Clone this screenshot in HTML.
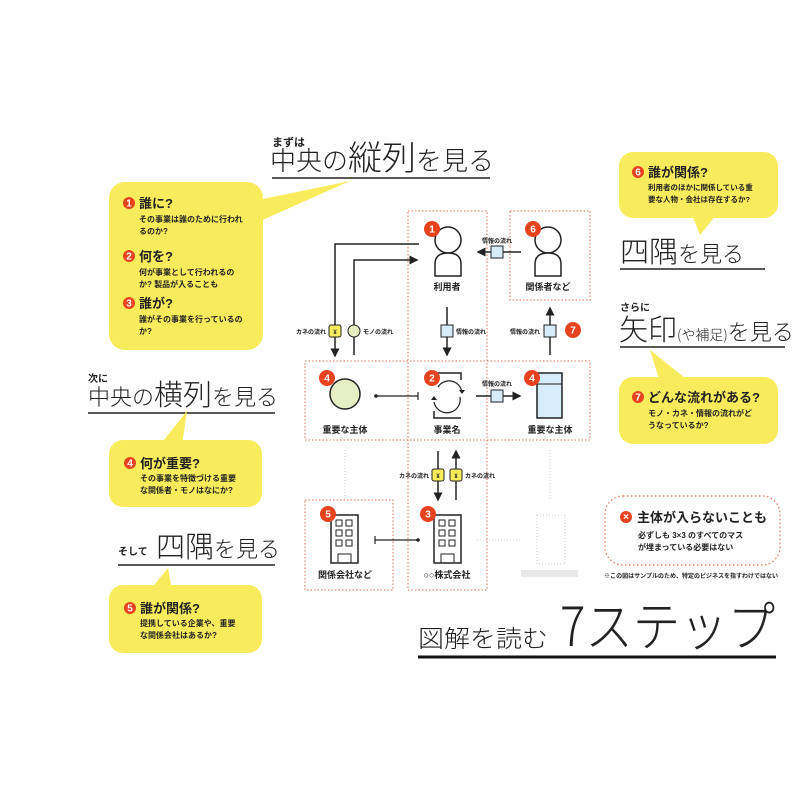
<!DOCTYPE html>
<html><head><meta charset="utf-8"><style>
html,body{margin:0;padding:0;background:#fff;}
svg{display:block;font-family:"Liberation Sans","Noto Sans CJK JP",sans-serif;}
.t{font-weight:bold;fill:#222;}
.thin{font-family:"Noto Sans CJK JP",sans-serif;font-weight:300;fill:#222;}
.dot{fill:none;stroke:#e07050;stroke-width:1;stroke-dasharray:1.5 2;}
.ln{stroke:#222;stroke-width:1.5;fill:none;}
.bn{font-size:10px;fill:#fff;font-weight:bold;text-anchor:middle;}
.lbl{font-size:9px;font-weight:bold;fill:#222;text-anchor:middle;}
.sm{font-size:6px;font-weight:bold;fill:#222;}
</style></head><body>
<svg width="800" height="800" viewBox="0 0 800 800" xmlns="http://www.w3.org/2000/svg">
<defs>
<marker id="ar" markerWidth="6" markerHeight="6" refX="5" refY="3" orient="auto"><path d="M0,0 L6,3 L0,6 z" fill="#222"/></marker>
</defs>
<rect width="800" height="800" fill="#fff"/>

<!-- Title top -->
<text x="272" y="146" class="t" font-size="11">まずは</text>
<text x="270" y="170" class="thin" font-size="26">中央の<tspan font-size="34">縦列</tspan>を見る</text>
<line x1="272" y1="178" x2="490" y2="178" stroke="#222" stroke-width="1.5"/>

<!-- Yellow box 1 -->
<polygon points="258,200 350,181 258,222" fill="#f9ec5c"/>
<rect x="109" y="182" width="154" height="168" rx="16" fill="#f9ec5c"/>
<circle cx="129" cy="203" r="6" fill="#e8431f"/><text x="129" y="206.5" class="bn" font-size="8">1</text>
<text x="139" y="208" class="t" font-size="13">誰に?</text>
<text x="139" y="222" class="t" font-size="8">その事業は誰のために行われ</text>
<text x="139" y="234" class="t" font-size="8">るのか?</text>
<circle cx="129" cy="256" r="6" fill="#e8431f"/><text x="129" y="259.5" class="bn" font-size="8">2</text>
<text x="139" y="261" class="t" font-size="13">何を?</text>
<text x="139" y="275" class="t" font-size="8">何が事業として行われるの</text>
<text x="139" y="287" class="t" font-size="8">か? 製品が入ることも</text>
<circle cx="129" cy="303" r="6" fill="#e8431f"/><text x="129" y="306.5" class="bn" font-size="8">3</text>
<text x="139" y="308" class="t" font-size="13">誰が?</text>
<text x="139" y="322" class="t" font-size="8">誰がその事業を行っているの</text>
<text x="139" y="334" class="t" font-size="8">か?</text>

<!-- Left mid titles -->
<text x="88" y="382" class="t" font-size="10">次に</text>
<text x="88" y="405" class="thin" font-size="22">中央の<tspan font-size="29">横列</tspan>を見る</text>
<line x1="88" y1="413" x2="275" y2="413" stroke="#222" stroke-width="1.5"/>
<polygon points="160,445 187,411 182,445" fill="#f9ec5c"/>
<rect x="109" y="440" width="153" height="67" rx="14" fill="#f9ec5c"/>
<circle cx="130" cy="463" r="6" fill="#e8431f"/><text x="130" y="466.5" class="bn" font-size="8">4</text>
<text x="140" y="468" class="t" font-size="13">何が重要?</text>
<text x="140" y="481" class="t" font-size="8">その事業を特徴づける重要</text>
<text x="140" y="493" class="t" font-size="8">な関係者・モノはなにか?</text>

<text x="118" y="555" class="t" font-size="10">そして</text>
<text x="156" y="557" class="thin" font-size="29">四隅<tspan font-size="22">を見る</tspan></text>
<line x1="118" y1="565" x2="275" y2="565" stroke="#222" stroke-width="1.5"/>
<polygon points="150,590 168,568 172,590" fill="#f9ec5c"/>
<rect x="109" y="585" width="153" height="68" rx="14" fill="#f9ec5c"/>
<circle cx="130" cy="608" r="6" fill="#e8431f"/><text x="130" y="611.5" class="bn" font-size="8">5</text>
<text x="140" y="613" class="t" font-size="13">誰が関係?</text>
<text x="140" y="626" class="t" font-size="8">提携している企業や、重要</text>
<text x="140" y="638" class="t" font-size="8">な関係会社はあるか?</text>

<!-- Right side -->
<polygon points="690,210 700,235 720,210" fill="#f9ec5c"/>
<rect x="619" y="152" width="159" height="66" rx="14" fill="#f9ec5c"/>
<circle cx="638" cy="172" r="6" fill="#e8431f"/><text x="638" y="175.5" class="bn" font-size="8">6</text>
<text x="648" y="177" class="t" font-size="13">誰が関係?</text>
<text x="648" y="190" class="t" font-size="7.5">利用者のほかに関係している重</text>
<text x="648" y="202" class="t" font-size="7.5">要な人物・会社は存在するか?</text>
<text x="620" y="262" class="thin" font-size="29">四隅<tspan font-size="22">を見る</tspan></text>
<line x1="620" y1="269" x2="765" y2="269" stroke="#222" stroke-width="1.5"/>
<text x="620" y="311" class="t" font-size="10">さらに</text>
<text x="619" y="340" class="thin" font-size="29">矢印<tspan font-size="14">(や補足)</tspan><tspan font-size="22">を見る</tspan></text>
<line x1="620" y1="347" x2="785" y2="347" stroke="#222" stroke-width="1.5"/>
<polygon points="650,350 660,382 690,382" fill="#f9ec5c"/>
<rect x="619" y="377" width="159" height="67" rx="14" fill="#f9ec5c"/>
<circle cx="638" cy="397" r="6" fill="#e8431f"/><text x="638" y="400.5" class="bn" font-size="8">7</text>
<text x="648" y="402" class="t" font-size="13">どんな流れがある?</text>
<text x="648" y="416" class="t" font-size="8">モノ・カネ・情報の流れがど</text>
<text x="648" y="428" class="t" font-size="8">うなっているか?</text>

<!-- dotted grid boxes -->
<rect x="408" y="211" width="79" height="379" class="dot"/>
<rect x="510" y="211" width="80" height="89" class="dot"/>
<rect x="305" y="361" width="285" height="79" class="dot"/>
<rect x="305" y="500" width="88" height="90" class="dot"/>

<!-- faint items -->
<line x1="345" y1="450" x2="345" y2="500" stroke="#ccc" stroke-dasharray="1 2"/>
<line x1="550" y1="450" x2="550" y2="500" stroke="#ccc" stroke-dasharray="1 2"/>
<line x1="477" y1="540" x2="520" y2="540" stroke="#ccc" stroke-dasharray="1 2"/>
<rect x="537" y="515" width="28" height="49" fill="none" stroke="#ccc" stroke-dasharray="1 2"/>
<rect x="521" y="570" width="57" height="7" fill="#e8e8e8"/>

<!-- Person 1 -->
<circle cx="448" cy="240" r="13" fill="#fff" stroke="#222" stroke-width="1.5"/>
<path d="M435,276 L435,264 Q435,253 448,253 Q461,253 461,264 L461,276 Z" fill="#fff" stroke="#222" stroke-width="1.5"/>
<circle cx="432" cy="229" r="8" fill="#e8431f"/><text x="432" y="232.5" class="bn">1</text>
<text x="447" y="290" class="lbl">利用者</text>
<!-- Person 6 -->
<circle cx="548" cy="240" r="13" fill="#fff" stroke="#222" stroke-width="1.5"/>
<path d="M535,276 L535,264 Q535,253 548,253 Q561,253 561,264 L561,276 Z" fill="#fff" stroke="#222" stroke-width="1.5"/>
<circle cx="533" cy="229" r="8" fill="#e8431f"/><text x="533" y="232.5" class="bn">6</text>
<text x="548" y="290" class="lbl">関係者など</text>

<!-- arrows from person 1 -->
<polyline points="419,244 335,244 335,356" class="ln" stroke-width="1.2" marker-end="url(#ar)"/>
<polyline points="354,355 354,260 417,260" class="ln" stroke-width="1.2" marker-end="url(#ar)"/>
<rect x="329" y="325" width="12" height="12" rx="2" fill="#f9ec5c" stroke="#222"/><text x="335" y="334" class="sm" text-anchor="middle" font-size="7">¥</text>
<text x="326" y="334" class="sm" text-anchor="end">カネの流れ</text>
<circle cx="354" cy="331" r="6" fill="#e6efc4" stroke="#222"/>
<text x="363" y="334" class="sm">モノの流れ</text>

<line x1="447" y1="307" x2="447" y2="355" class="ln" stroke-width="1.2" marker-end="url(#ar)"/>
<rect x="441" y="325" width="12" height="12" fill="#d6ecf8" stroke="#222"/>
<text x="456" y="334" class="sm">情報の流れ</text>

<line x1="521" y1="252" x2="478" y2="252" class="ln" stroke-width="1.2" marker-end="url(#ar)"/>
<rect x="491" y="246" width="12" height="12" fill="#d6ecf8" stroke="#222"/>
<text x="497" y="243" class="sm" text-anchor="middle">情報の流れ</text>

<line x1="550" y1="355" x2="550" y2="308" class="ln" stroke-width="1.2" marker-end="url(#ar)"/>
<rect x="544" y="325" width="12" height="12" fill="#d6ecf8" stroke="#222"/>
<text x="540" y="334" class="sm" text-anchor="end">情報の流れ</text>
<circle cx="573" cy="330" r="8" fill="#e8431f"/><text x="573" y="333.5" class="bn">7</text>

<!-- middle row -->
<circle cx="345" cy="394" r="15" fill="#e6efc4" stroke="#222" stroke-width="1.5"/>
<circle cx="327" cy="378" r="8" fill="#e8431f"/><text x="327" y="381.5" class="bn">4</text>
<text x="345" y="433" class="lbl">重要な主体</text>
<line x1="375" y1="396" x2="418" y2="396" stroke="#222" stroke-width="1.2"/>
<circle cx="376" cy="396" r="1.8" fill="#222"/><line x1="418" y1="392" x2="418" y2="400" stroke="#222" stroke-width="1.2"/>

<path d="M434,373 L461,373 L461,380" class="ln"/>
<path d="M461,418 L434,418 L434,411" class="ln"/>
<path d="M438,387 A13,13 0 0 1 462,393" fill="none" stroke="#222" stroke-width="1.2"/>
<path d="M460,397 A13,13 0 0 1 434,402" fill="none" stroke="#222" stroke-width="1.2"/>
<path d="M459,390 L462,394 L465,390 z" fill="#222"/>
<path d="M431,400 L434,396 L437,400 z" fill="#222"/>
<circle cx="432" cy="378" r="8" fill="#e8431f"/><text x="432" y="381.5" class="bn">2</text>
<text x="447" y="433" class="lbl">事業名</text>

<line x1="476" y1="396" x2="520" y2="396" class="ln" stroke-width="1.2" marker-end="url(#ar)"/>
<rect x="491" y="390" width="12" height="12" fill="#d6ecf8" stroke="#222"/>
<text x="497" y="386" class="sm" text-anchor="middle">情報の流れ</text>

<rect x="537" y="373" width="25" height="45" fill="#d6ecf8" stroke="#222" stroke-width="1.5"/>
<line x1="537" y1="384" x2="562" y2="384" stroke="#222"/>
<circle cx="532" cy="378" r="8" fill="#e8431f"/><text x="532" y="381.5" class="bn">4</text>
<text x="550" y="433" class="lbl">重要な主体</text>

<!-- money arrows -->
<line x1="438" y1="451" x2="438" y2="500" class="ln" stroke-width="1.2" marker-end="url(#ar)"/>
<line x1="456" y1="500" x2="456" y2="451" class="ln" stroke-width="1.2" marker-end="url(#ar)"/>
<rect x="432" y="469" width="12" height="12" rx="2" fill="#f9ec5c" stroke="#222"/><text x="438" y="478" class="sm" text-anchor="middle" font-size="7">¥</text>
<rect x="450" y="469" width="12" height="12" rx="2" fill="#f9ec5c" stroke="#222"/><text x="456" y="478" class="sm" text-anchor="middle" font-size="7">¥</text>
<text x="429" y="478" class="sm" text-anchor="end">カネの流れ</text>
<text x="465" y="478" class="sm">カネの流れ</text>

<!-- buildings -->
<g>
<rect x="331" y="515" width="27" height="48" fill="#fff" stroke="#222" stroke-width="1.5"/>
<g fill="none" stroke="#222" stroke-width="1"><rect x="336" y="520" width="6" height="6"/><rect x="346" y="520" width="6" height="6"/><rect x="336" y="530" width="6" height="6"/><rect x="346" y="530" width="6" height="6"/><rect x="336" y="540" width="6" height="6"/><rect x="346" y="540" width="6" height="6"/><rect x="338" y="554" width="13" height="9"/></g>
<circle cx="328" cy="514" r="8" fill="#e8431f"/><text x="328" y="517.5" class="bn">5</text>
<text x="345" y="578" class="lbl">関係会社など</text>
</g>
<g>
<rect x="434" y="515" width="27" height="48" fill="#fff" stroke="#222" stroke-width="1.5"/>
<g fill="none" stroke="#222" stroke-width="1"><rect x="439" y="520" width="6" height="6"/><rect x="449" y="520" width="6" height="6"/><rect x="439" y="530" width="6" height="6"/><rect x="449" y="530" width="6" height="6"/><rect x="439" y="540" width="6" height="6"/><rect x="449" y="540" width="6" height="6"/><rect x="441" y="554" width="13" height="9"/></g>
<circle cx="428" cy="514" r="8" fill="#e8431f"/><text x="428" y="517.5" class="bn">3</text>
<text x="447" y="578" class="lbl">○○株式会社</text>
</g>
<line x1="375" y1="540" x2="418" y2="540" stroke="#222" stroke-width="1.2"/>
<line x1="375" y1="536" x2="375" y2="544" stroke="#222" stroke-width="1.2"/><circle cx="418" cy="540" r="1.8" fill="#222"/>

<!-- note box -->
<rect x="605" y="496" width="175" height="69" rx="18" fill="none" stroke="#e07050" stroke-width="1.2" stroke-dasharray="1.5 2.5"/>
<circle cx="626" cy="517" r="6" fill="#e8431f"/><text x="626" y="520" class="bn" font-size="8">×</text>
<text x="637" y="522" class="t" font-size="13">主体が入らないことも</text>
<text x="638" y="538" class="t" font-size="8">必ずしも 3×3 のすべてのマス</text>
<text x="638" y="550" class="t" font-size="8">が埋まっている必要はない</text>
<text x="778" y="578" class="sm" text-anchor="end" font-size="4.5">※この図はサンプルのため、特定のビジネスを指すわけではない</text>

<!-- big title -->
<text x="418" y="647" class="thin" font-size="24" textLength="130" lengthAdjust="spacingAndGlyphs">図解を読む</text>
<text x="560" y="646" class="thin" font-size="54" font-weight="200" textLength="215" lengthAdjust="spacingAndGlyphs">7ステップ</text>
<line x1="418" y1="657" x2="776" y2="657" stroke="#111" stroke-width="3"/>
</svg>
</body></html>
